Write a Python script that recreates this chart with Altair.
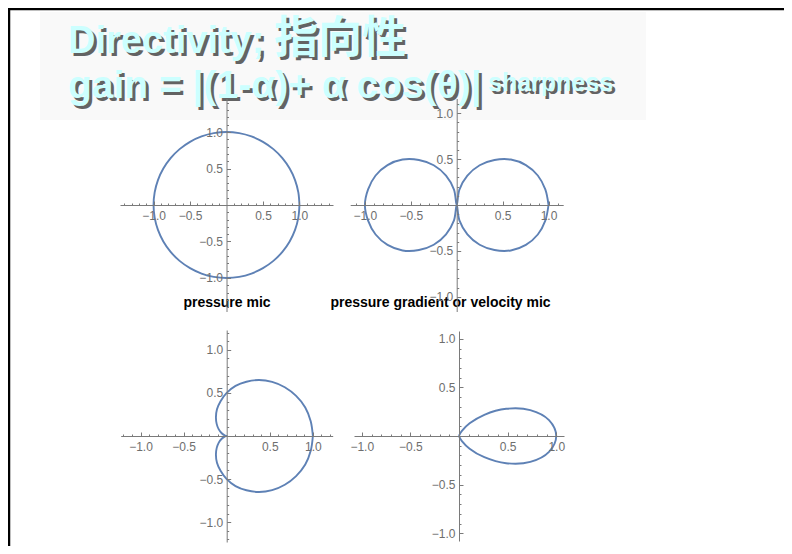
import altair as alt
import pandas as pd

# ---------------- data ----------------
ANGLES_FULL = [0, 10, 20, 30, 40, 50, 60, 70, 80, 90, 100, 110, 120, 130, 140, 150, 160, 170, 180,
               190, 200, 210, 220, 230, 240, 250, 260, 270, 280, 290, 300, 310, 320, 330, 340, 350, 360]
R_PRESSURE = [1.00, 1.00, 1.00, 1.00, 1.00, 1.00, 1.00, 1.00, 1.00, 1.00, 1.00, 1.00, 1.00, 1.00, 1.00, 1.00, 1.00, 1.00, 1.00,
              1.00, 1.00, 1.00, 1.00, 1.00, 1.00, 1.00, 1.00, 1.00, 1.00, 1.00, 1.00, 1.00, 1.00, 1.00, 1.00, 1.00, 1.00]
R_FIGURE8 = [1.00, 0.98, 0.94, 0.87, 0.77, 0.64, 0.50, 0.34, 0.17, 0.00, 0.17, 0.34, 0.50, 0.64, 0.77, 0.87, 0.94, 0.98, 1.00,
             0.98, 0.94, 0.87, 0.77, 0.64, 0.50, 0.34, 0.17, 0.00, 0.17, 0.34, 0.50, 0.64, 0.77, 0.87, 0.94, 0.98, 1.00]
R_CARDIOID = [1.00, 0.99, 0.97, 0.93, 0.88, 0.82, 0.75, 0.67, 0.59, 0.50, 0.41, 0.33, 0.25, 0.18, 0.12, 0.07, 0.03, 0.01, 0.00,
              0.01, 0.03, 0.07, 0.12, 0.18, 0.25, 0.33, 0.41, 0.50, 0.59, 0.67, 0.75, 0.82, 0.88, 0.93, 0.97, 0.99, 1.00]
ANGLES_FRONT = [-80, -70, -60, -50, -40, -30, -20, -10, 0, 10, 20, 30, 40, 50, 60, 70, 80]
R_SHARP = [0.00, 0.01, 0.06, 0.17, 0.34, 0.56, 0.78, 0.94, 1.00, 0.94, 0.78, 0.56, 0.34, 0.17, 0.06, 0.01, 0.00]

MAJOR_TICKS = [-1.0, -0.5, 0.5, 1.0]
TICKS_P1 = [-1.4, -1.3, -1.2, -1.1, -1.0, -0.9, -0.8, -0.7, -0.6, -0.5, -0.4, -0.3, -0.2, -0.1,
            0.1, 0.2, 0.3, 0.4, 0.5, 0.6, 0.7, 0.8, 0.9, 1.0, 1.1, 1.2, 1.3, 1.4]
TICKS_P2 = [-1.1, -1.0, -0.9, -0.8, -0.7, -0.6, -0.5, -0.4, -0.3, -0.2, -0.1,
            0.1, 0.2, 0.3, 0.4, 0.5, 0.6, 0.7, 0.8, 0.9, 1.0, 1.1]
TICKS_P3 = [-1.2, -1.1, -1.0, -0.9, -0.8, -0.7, -0.6, -0.5, -0.4, -0.3, -0.2, -0.1,
            0.1, 0.2, 0.3, 0.4, 0.5, 0.6, 0.7, 0.8, 0.9, 1.0, 1.1, 1.2]
TICKS_P4 = [-1.0, -0.9, -0.8, -0.7, -0.6, -0.5, -0.4, -0.3, -0.2, -0.1,
            0.1, 0.2, 0.3, 0.4, 0.5, 0.6, 0.7, 0.8, 0.9, 1.0]

TITLE_WORD = "Directivity;"
TITLE_CJK = "指向性"
TITLE_LINE2 = "gain = |(1-α)+ α cos(θ)|"
TITLE_SUP = "sharpness"
CAPTION_1 = "pressure mic"
CAPTION_2 = "pressure gradient or velocity mic"

# ---------------- style ----------------
W, H = 776, 538
CURVE = "#5E81B5"
AXC = "#7a7a7a"
LABC = "#6e6e6e"
LABEL_FONT = "Liberation Sans"
TITLE_FONT = "Liberation Sans"
CJK_FONT = "Noto Sans CJK JP"

major_list = "[" + ",".join(str(v) for v in MAJOR_TICKS) + "]"
MAJOR_TEST = f"indexof({major_list}, datum.value) >= 0"
LABEL_EXPR = f"{MAJOR_TEST} ? format(datum.value, '.1f') : ''"


def polar_panel(angles, radii, dom, cx, cy, half, ticks):
    df = pd.DataFrame({"angle": angles, "r": radii})
    xs = alt.Scale(domain=[-dom, dom], range=[cx - half, cx + half], nice=False, zero=False)
    ys = alt.Scale(domain=[-dom, dom], range=[cy + half, cy - half], nice=False, zero=False)
    xaxis = alt.Axis(orient="top", offset=-cy, values=ticks, title=None, grid=False,
                     domainColor=AXC, domainWidth=1, tickColor=AXC, tickWidth=1,
                     tickSize={"condition": {"test": MAJOR_TEST, "value": 4}, "value": 2},
                     labelExpr=LABEL_EXPR, labelBaseline="top", labelAlign="center",
                     labelPadding=-9, labelFont=LABEL_FONT, labelFontSize=12,
                     labelColor=LABC, labelOverlap=False, labelFlush=False, zindex=1)
    yaxis = alt.Axis(orient="right", offset=cx - W, values=ticks, title=None, grid=False,
                     domainColor=AXC, domainWidth=1, tickColor=AXC, tickWidth=1,
                     tickSize={"condition": {"test": MAJOR_TEST, "value": 4}, "value": 2},
                     labelExpr=LABEL_EXPR, labelBaseline="middle", labelAlign="right",
                     labelPadding=-8, labelFont=LABEL_FONT, labelFontSize=12,
                     labelColor=LABC, labelOverlap=False, labelFlush=False, zindex=1)
    return (
        alt.Chart(df)
        .transform_calculate(
            px="datum.r * cos(datum.angle * PI / 180)",
            py="datum.r * sin(datum.angle * PI / 180)",
        )
        .mark_line(color=CURVE, strokeWidth=1.9, interpolate="catmull-rom", clip=False)
        .encode(
            x=alt.X("px:Q", scale=xs, axis=xaxis),
            y=alt.Y("py:Q", scale=ys, axis=yaxis),
            order=alt.Order("angle:Q"),
        )
    )


p1 = polar_panel(ANGLES_FULL, R_PRESSURE, 1.46, 218.5, 197, 106.5, TICKS_P1)
p2 = polar_panel(ANGLES_FULL, R_FIGURE8, 1.16, 448.7, 197, 106.5, TICKS_P2)
p3 = polar_panel(ANGLES_FULL, R_CARDIOID, 1.23, 218.7, 428, 106, TICKS_P3)
p4 = polar_panel(ANGLES_FRONT, R_SHARP, 1.08, 451, 428, 105, TICKS_P4)

one = alt.Data(values=[{"k": 0}])

bg_box = alt.Chart(one).mark_rect(color="#f9f9f9").encode(
    x=alt.value(32), x2=alt.value(638), y=alt.value(4), y2=alt.value(112))
border_top = alt.Chart(one).mark_rule(color="#000000", strokeWidth=2.5).encode(
    x=alt.value(0), x2=alt.value(W), y=alt.value(1))
border_left = alt.Chart(one).mark_rule(color="#000000", strokeWidth=2.5).encode(
    x=alt.value(1), y=alt.value(0), y2=alt.value(H))


def text_layer(txt, x, y, size, color, font, weight="bold", align="left", dx=0, dy=0, opacity=1.0):
    return alt.Chart(alt.Data(values=[{"t": txt}])).mark_text(
        align=align, baseline="alphabetic", font=font, fontSize=size, fontWeight=weight,
        color=color, dx=dx, dy=dy, opacity=opacity,
    ).encode(x=alt.value(x), y=alt.value(y), text="t:N")


SHADOW = "#4a4a4a"
CYAN = "#CCFFFF"
title_layers = []
for txt, x, y, size, font in [
    (TITLE_WORD, 60, 45, 38, TITLE_FONT),
    (TITLE_CJK, 266, 45, 44, CJK_FONT),
    (TITLE_LINE2, 60, 90, 39, TITLE_FONT),
    (TITLE_SUP, 480, 83, 25, TITLE_FONT),
]:
    title_layers.append(text_layer(txt, x, y, size, SHADOW, font, dx=3, dy=3, opacity=0.85))
    title_layers.append(text_layer(txt, x, y, size, CYAN, font))

cap1 = text_layer(CAPTION_1, 219, 299, 14, "#000000", TITLE_FONT, align="center")
cap2 = text_layer(CAPTION_2, 432.5, 299, 14, "#000000", TITLE_FONT, align="center")

chart = (
    alt.layer(bg_box, border_top, border_left, *title_layers, p1, p2, p3, p4, cap1, cap2)
    .resolve_scale(x="independent", y="independent")
    .properties(width=W, height=H, padding=0, autosize=alt.AutoSizeParams(type="none"),
                background="#ffffff")
    .configure_view(stroke=None)
)

chart.save("out.html", embed_options={"renderer": "svg", "actions": False})
